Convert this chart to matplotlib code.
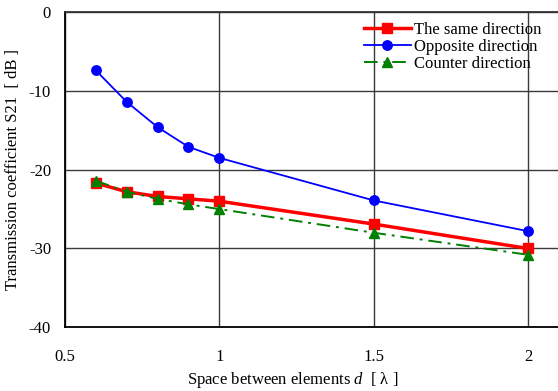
import numpy as np
import matplotlib.pyplot as plt

plt.rcParams['font.family'] = ['Liberation Serif', 'DejaVu Serif']
plt.rcParams['mathtext.fontset'] = 'custom'
plt.rcParams['mathtext.rm'] = 'Liberation Serif'
plt.rcParams['mathtext.it'] = 'Liberation Serif:italic'
plt.rcParams['axes.unicode_minus'] = False

# element spacing in wavelengths
spacing = [0.6, 0.7, 0.8, 0.9, 1.0, 1.5, 2.0]

# S21 [dB] per arrangement
same_dir = [-21.7, -22.8, -23.4, -23.7, -24.0, -26.9, -30.0]
opposite_dir = [-7.4, -11.4, -14.6, -17.1, -18.5, -23.9, -27.8]
counter_dir = [-21.4, -22.8, -23.7, -24.4, -25.0, -28.0, -30.8]

x_ticks = [0.5, 1.0, 1.5, 2.0]
x_tick_labels = ['0.5', '1', '1.5', '2']
y_ticks = [-40, -30, -20, -10, 0]

fig = plt.figure(figsize=(5.58, 3.91), dpi=100)
ax = fig.add_axes([0.1165, 0.163, 0.885, 0.806])

ax.plot(spacing, same_dir, color='#ff0000', lw=2.5, marker='s', ms=6.8,
        label='The same direction', zorder=4)
ax.plot(spacing, opposite_dir, color='#0000ff', lw=1.3, marker='o', ms=6.8,
        label='Opposite direction', zorder=3)
ax.plot(spacing, counter_dir, color='#008000', lw=1.4, marker='^', ms=7.2,
        dashes=(7, 3, 1.5, 3), label='Counter direction', zorder=5)

ax.set_xlim(0.5, 2.1)
ax.set_ylim(-40, 0)
ax.set_xticks(x_ticks)
ax.set_xticklabels(x_tick_labels)
ax.set_yticks(y_ticks)
ax.tick_params(length=0, labelsize=12)
ax.tick_params(axis='x', pad=16)
ax.tick_params(axis='y', pad=10)

ax.grid(True, color='#3a3a3a', lw=1.0)
for side in ['left', 'bottom', 'top']:
    ax.spines[side].set_linewidth(1.3)
    ax.spines[side].set_color('black')
ax.spines['top'].set_color('#333333')
ax.spines['right'].set_visible(False)

ax.set_xlabel('Space between elements $d$  [ λ ]', fontsize=12)
ax.xaxis.set_label_coords(0.462, -0.135)
ax.set_ylabel('Transmission coefficient S21  [ dB ]', fontsize=12, labelpad=6)

leg = ax.legend(loc='upper right', bbox_to_anchor=(0.985, 1.0), frameon=False,
                fontsize=12, handlelength=2.8, handletextpad=0.2,
                labelspacing=0.05, borderaxespad=0.2)

fig.savefig('out.png', dpi=100)
